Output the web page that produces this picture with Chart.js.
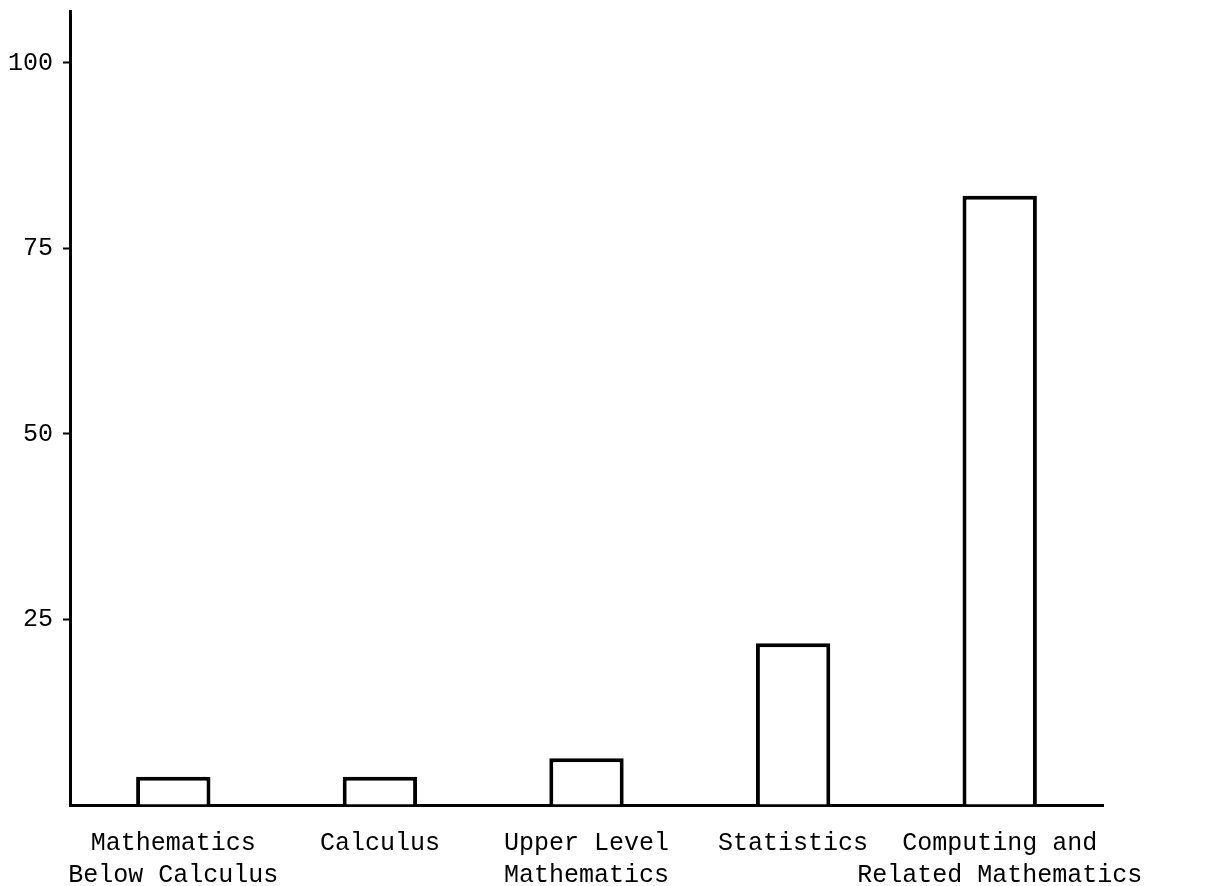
<!DOCTYPE html>
<html>
<head>
<meta charset="utf-8">
<script src="https://cdn.jsdelivr.net/npm/chart.js@4"></script>
<style>
    html, body { margin: 0; padding: 0; background: #ffffff; }
    #wrap { width: 1212px; height: 886px; }
</style>
</head>
<body>
<div id="wrap"><canvas id="fieldChart" width="1212" height="886"></canvas></div>
<script>
const categories = [
    ["Mathematics", "Below Calculus"],
    ["Calculus"],
    ["Upper Level", "Mathematics"],
    ["Statistics"],
    ["Computing and", "Related Mathematics"],
];
const values = [3.8, 3.8, 6.3, 21.8, 82.1];
const yTicks = [25, 50, 75, 100];
const yMax = 107;

document.addEventListener("DOMContentLoaded", function () {
    const canvas = document.getElementById("fieldChart");
    const typeFont = { family: "'Liberation Mono', 'Courier New', monospace", size: 25, lineHeight: 1.25 };

    new Chart(canvas, {
        type: "bar",
        data: {
            labels: categories,
            datasets: [
                {
                    data: values,
                    backgroundColor: "#ffffff",
                    borderColor: "#000000",
                    borderWidth: 4,
                    borderSkipped: "bottom",
                    barPercentage: 0.36,
                    categoryPercentage: 1,
                },
            ],
        },
        options: {
            responsive: false,
            animation: false,
            layout: {
                padding: { top: 11, right: 109, left: 0, bottom: 0 },
            },
            plugins: {
                legend: { display: false },
                tooltip: { enabled: false },
            },
            scales: {
                x: {
                    grid: { display: false },
                    border: { display: true, color: "#000000", width: 3 },
                    ticks: {
                        color: "#000000",
                        font: typeFont,
                        padding: 15,
                        maxRotation: 0,
                        autoSkip: false,
                    },
                    afterFit: function (scale) {
                        scale.height = 81;
                        scale.paddingLeft = 0;
                        scale.paddingRight = 0;
                    },
                },
                y: {
                    min: 0,
                    max: yMax,
                    border: { display: true, color: "#000000", width: 3 },
                    grid: {
                        drawOnChartArea: false,
                        drawTicks: true,
                        tickLength: 7,
                        tickWidth: 2,
                        tickColor: function (ctx) {
                            return ctx.tick && yTicks.indexOf(ctx.tick.value) >= 0 ? "#000000" : "rgba(0,0,0,0)";
                        },
                    },
                    ticks: {
                        stepSize: 25,
                        color: "#000000",
                        font: typeFont,
                        padding: 10,
                        callback: function (value) {
                            return yTicks.indexOf(value) >= 0 ? String(value) : "";
                        },
                    },
                    afterFit: function (scale) {
                        scale.width = 70;
                        scale.paddingTop = 0;
                        scale.paddingBottom = 0;
                    },
                },
            },
        },
    });
});
</script>
</body>
</html>
